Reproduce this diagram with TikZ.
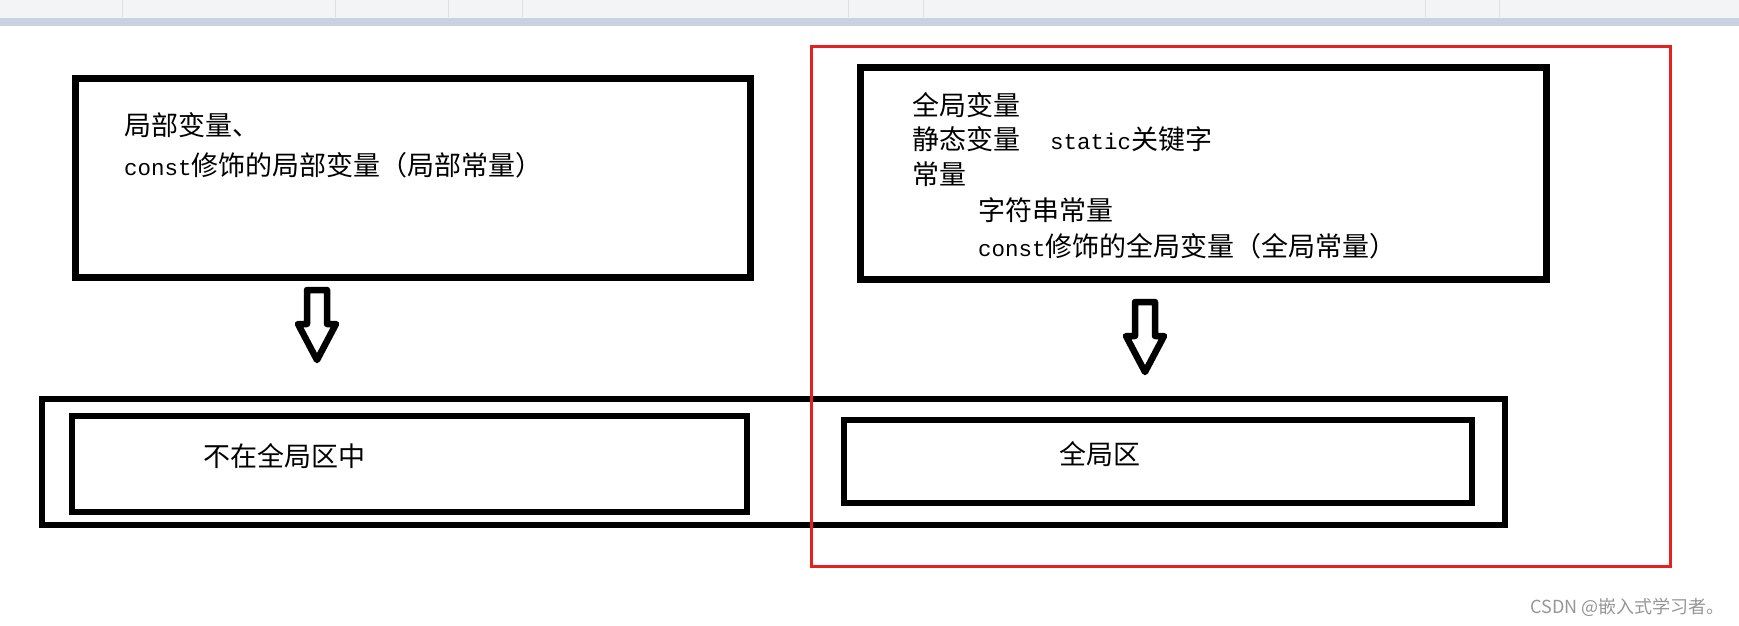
\documentclass[tikz,border=0pt]{standalone}
\usepackage{fontspec}
\newfontfamily\cjk{Noto Sans CJK SC}
\newfontfamily\mono{Liberation Mono}
\newcommand\lat[1]{{\mono\fontsize{22.5}{22.5}\selectfont #1}}
\definecolor{redline}{RGB}{228,32,32}
\definecolor{barback}{RGB}{243,244,246}
\definecolor{barband}{RGB}{200,210,224}
\definecolor{barsep}{RGB}{222,224,228}
\definecolor{markgrey}{RGB}{150,150,150}
\tikzset{
  box/.style={draw, line width=6.5pt, inner sep=0pt},
  txt/.style={anchor=west, inner sep=0pt, font=\cjk\fontsize{27}{27}\selectfont},
  hollow/.style={draw, line width=6.5pt, line join=round, fill=white},
  downarrow/.pic={\draw[hollow] (-10,0) -- (-10,34) -- (-19,34) -- (0,70) -- (19,34) -- (10,34) -- (10,0) -- cycle;},
}
\begin{document}
\begin{tikzpicture}[x=1pt, y=-1pt]
\useasboundingbox (0,0) rectangle (1739,626);

% toolbar strip
\fill[barback] (0,0) rectangle (1739,18);
\fill[barband] (0,18) rectangle (1739,26);
\foreach \sx in {122,335,448,522,848,923,1425,1499}
  \draw[barsep, line width=1pt] (\sx,0) -- (\sx,17);

\node[box, minimum width=675pt, minimum height=199pt] (ltop) at (413,178) {};
\node[box, minimum width=686pt, minimum height=212pt] (rtop) at (1203.5,173.5) {};

\node[txt] (l1) at (124,125) {局部变量、};
\node[txt] (l2) at (124,165) {\lat{const}修饰的局部变量（局部常量）};

\node[txt] (r1) at (912,105) {全局变量};
\node[txt] (r2) at (912,139) {静态变量\hspace{30pt}\lat{static}关键字};
\node[txt] (r3) at (912,174) {常量};
\node[txt] (r4) at (978,210) {字符串常量};
\node[txt] (r5) at (978,246) {\lat{const}修饰的全局变量（全局常量）};

\pic at (317,290) {downarrow};
\pic at (1145,302) {downarrow};

\node[box, minimum width=1463pt, minimum height=126pt] (outer) at (773.5,462) {};
\node[box, minimum width=675pt, minimum height=96pt] (lbot) at (409.5,464) {};
\node[box, minimum width=628pt, minimum height=83pt] (rbot) at (1158,461.5) {};

\node[txt] (notglobal) at (203,456) {不在全局区中};
\node[txt] (global) at (1059,454) {全局区};

\node[draw=redline, line width=3pt, minimum width=859pt, minimum height=519pt, inner sep=0pt] (redbox) at (1240.5,306.5) {};

\node[anchor=east, inner sep=0pt, text=markgrey, font=\cjk\fontsize{18}{18}\selectfont] (mark) at (1725,607) {CSDN @嵌入式学习者。};
\end{tikzpicture}
\end{document}
